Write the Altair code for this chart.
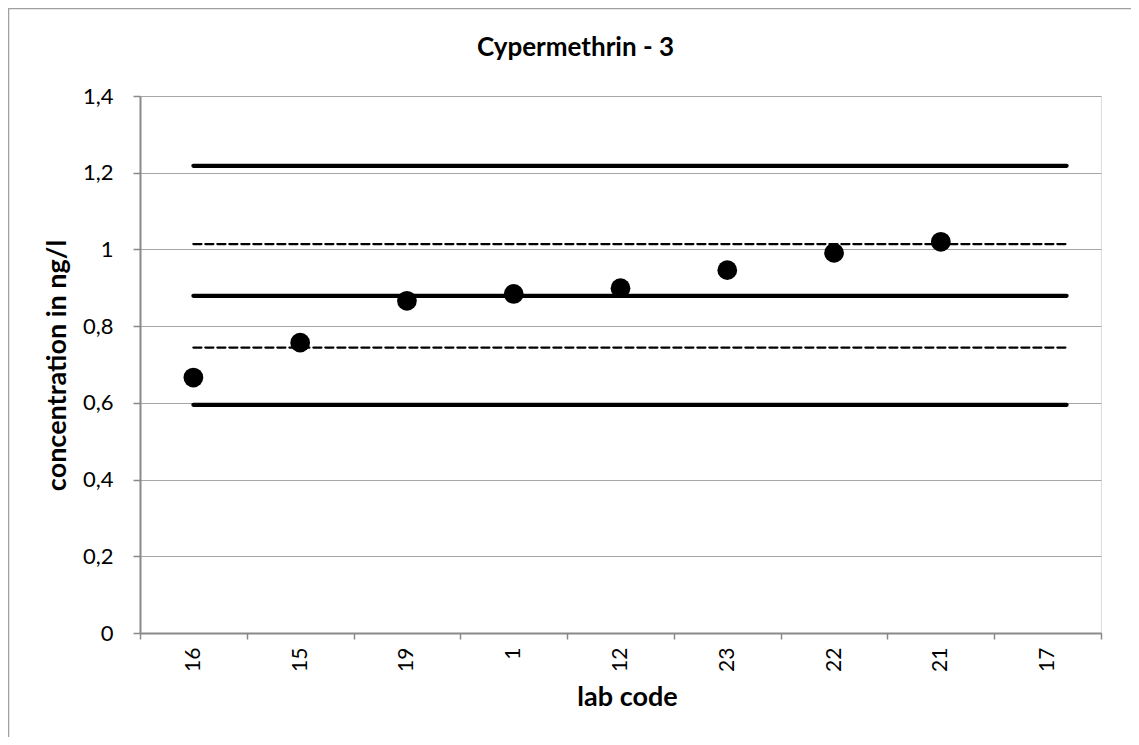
import altair as alt
import pandas as pd

# categories (lab codes) in plotted order
lab_codes = ["16", "15", "19", "1", "12", "23", "22", "21", "17"]
# measured concentrations (lab 17 has no value)
point_labs = ["16", "15", "19", "1", "12", "23", "22", "21"]
point_values = [0.666, 0.757, 0.866, 0.884, 0.899, 0.946, 0.991, 1.020]

# reference / limit lines
line_values = [1.218, 1.014, 0.879, 0.744, 0.595]
line_kind = ["solid", "dashed", "solid", "dashed", "solid"]
line_start = ["16"] * 5
line_end = ["17"] * 5

y_ticks = [0, 0.2, 0.4, 0.6, 0.8, 1.0, 1.2, 1.4]

points_df = pd.DataFrame({"lab": point_labs, "value": point_values})
lines_df = pd.DataFrame({"start": line_start, "end": line_end,
                         "value": line_values, "kind": line_kind})
frame_df = pd.DataFrame({"k": [0]})

FONT = "Lato"
GRID = "#a6a6a6"
FRAME = "#898989"

x_scale = alt.Scale(domain=lab_codes, paddingInner=0, paddingOuter=0)
y_scale = alt.Scale(domain=[0, 1.4], nice=False)

x_axis = alt.Axis(
    title="lab code", labelAngle=270, labelFont=FONT, labelFontSize=21,
    labelColor="black", labelPadding=8, tickSize=6, tickColor=FRAME,
    tickWidth=1.5, tickBand="extent", domainColor=FRAME, domainWidth=2,
    grid=False, titleFont=FONT, titleFontSize=27, titleFontWeight="bold",
    titleColor="black", titleX=487, titleY=72, titleBaseline="alphabetic",
    titleAlign="center",
)
y_axis = alt.Axis(
    title="concentration in ng/l", values=y_ticks,
    labelExpr="replace(format(datum.value, '.1~f'), '.', ',')",
    labelFont=FONT, labelFontSize=22, labelColor="black", labelPadding=20,
    tickSize=7, tickColor=FRAME, tickWidth=1.5, domainColor=FRAME,
    domainWidth=2, grid=True, gridColor=GRID, gridWidth=1,
    titleFont=FONT, titleFontSize=27, titleFontWeight="bold",
    titleColor="black", titleAngle=270, titleX=-83, titleY=269,
    titleBaseline="middle", titleAlign="center",
)

border = alt.Chart(frame_df).mark_rect(
    filled=False, stroke="#a0a0a0", strokeWidth=1.5, clip=False
).encode(
    x=alt.value(-131.5), x2=alt.value(1200),
    y=alt.value(-87.5), y2=alt.value(800),
)

lines = alt.Chart(lines_df).mark_rule(strokeCap="round", x2Offset=19).encode(
    x=alt.X("start:N", scale=x_scale, axis=x_axis, sort=lab_codes),
    x2="end:N",
    y=alt.Y("value:Q", scale=y_scale, axis=y_axis),
    strokeDash=alt.StrokeDash("kind:N", scale=alt.Scale(
        domain=["solid", "dashed"], range=[[1, 0], [8, 4]]), legend=None),
    strokeWidth=alt.StrokeWidth("kind:N", scale=alt.Scale(
        domain=["solid", "dashed"], range=[4.2, 2.3]), legend=None),
    color=alt.value("black"),
)

points = alt.Chart(points_df).mark_circle(size=390, opacity=1, color="black").encode(
    x=alt.X("lab:N", scale=x_scale, sort=lab_codes),
    y=alt.Y("value:Q", scale=y_scale),
)

chart = alt.layer(border, lines, points).properties(
    width=961, height=537,
    title=alt.TitleParams("Cypermethrin - 3", font=FONT, fontSize=26,
                          fontWeight="bold", color="black", anchor="middle",
                          dx=-45, offset=-74, baseline="alphabetic"),
    autosize=alt.AutoSizeParams(type="none"),
    padding={"left": 132, "top": 88, "right": 30, "bottom": 104},
).configure_view(stroke=FRAME, strokeWidth=2).configure(background="white")

chart.save("out.html", embed_options={"renderer": "svg", "actions": False})
